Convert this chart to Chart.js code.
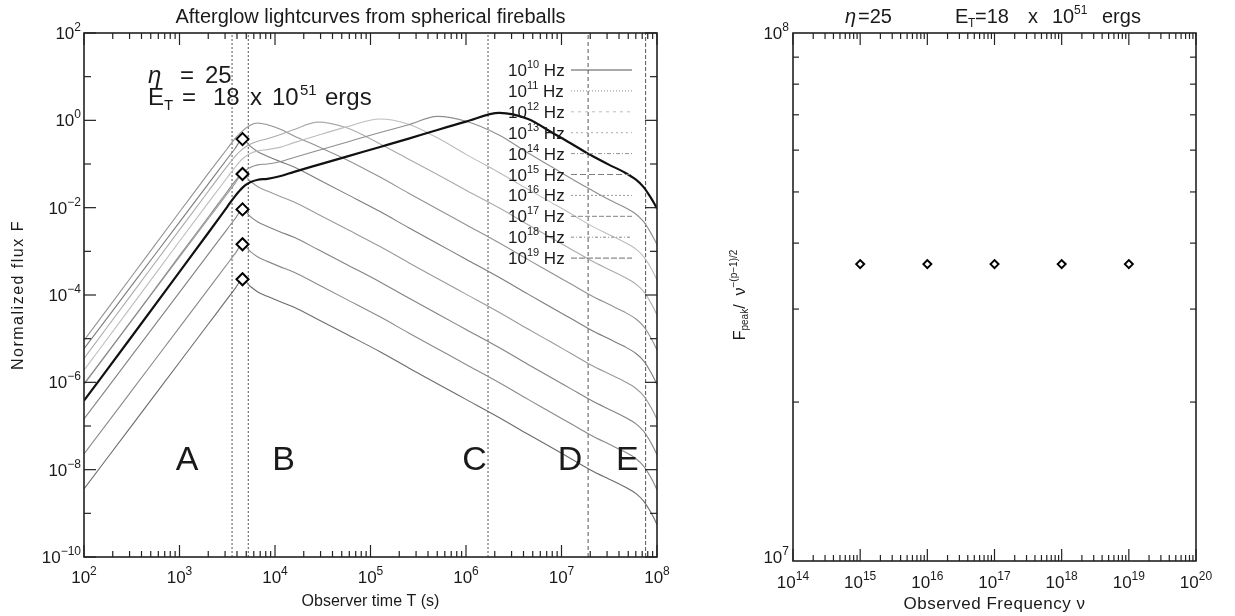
<!DOCTYPE html>
<html>
<head>
<meta charset="utf-8">
<script src="https://cdn.jsdelivr.net/npm/chart.js@4.4.0/dist/chart.umd.min.js"></script>
<style>
  html, body { margin: 0; padding: 0; background: #fff; }
  #wrap { position: relative; width: 1235px; height: 616px; }
  #left { position: absolute; left: 0; top: 0; }
  #right { position: absolute; left: 700px; top: 0; }
</style>
</head>
<body>
<div id="wrap">
  <canvas id="left" width="700" height="616"></canvas>
  <canvas id="right" width="535" height="616"></canvas>
</div>
<script>
// observer time grid, log10(T / s)
const logTime = [2.0, 2.5, 3.0, 3.3, 3.5, 3.58, 3.66, 3.74, 3.82, 3.92, 4.05, 4.2, 4.45, 4.75, 5.1,
                 5.4, 5.7, 6.0, 6.35, 6.65, 6.9, 7.1, 7.3, 7.5, 7.65, 7.78, 7.86, 7.92, 7.97, 8.0];

// log10 of normalized flux, one list per frequency
const lgF10 = [-6.42, -4.95, -3.47, -2.58, -1.98, -1.74, -1.54, -1.42, -1.36, -1.34, -1.28, -1.18, -1.02, -0.83, -0.61,
               -0.42, -0.22, -0.03, 0.17, 0.03, -0.28, -0.53, -0.79, -1.02, -1.18, -1.36, -1.53, -1.72, -1.90, -2.02];
const lgF11 = [-6.05, -4.58, -3.10, -2.22, -1.63, -1.40, -1.20, -1.08, -1.02, -1.00, -0.95, -0.85, -0.69, -0.50, -0.28,
               -0.10, 0.09, -0.02, -0.34, -0.75, -1.07, -1.33, -1.58, -1.82, -1.98, -2.15, -2.32, -2.52, -2.72, -2.85];
const lgF12 = [-5.72, -4.25, -2.77, -1.89, -1.31, -1.08, -0.88, -0.76, -0.70, -0.67, -0.62, -0.51, -0.34, -0.15, 0.03,
               -0.09, -0.40, -0.78, -1.20, -1.58, -1.89, -2.14, -2.40, -2.62, -2.78, -2.95, -3.12, -3.32, -3.52, -3.66];
const lgF13 = [-5.45, -3.98, -2.51, -1.63, -1.05, -0.83, -0.66, -0.55, -0.48, -0.42, -0.33, -0.21, -0.04, -0.17, -0.54,
               -0.89, -1.24, -1.60, -2.01, -2.39, -2.70, -2.95, -3.20, -3.42, -3.58, -3.75, -3.92, -4.12, -4.32, -4.46];
const lgF14 = [-5.04, -3.57, -2.10, -1.22, -0.65, -0.42, -0.24, -0.11, -0.06, -0.10, -0.20, -0.36, -0.60, -0.90, -1.30,
               -1.67, -2.03, -2.39, -2.81, -3.19, -3.50, -3.75, -4.00, -4.22, -4.38, -4.55, -4.72, -4.92, -5.12, -5.26];
const lgF15 = [-5.23, -3.78, -2.33, -1.46, -0.88, -0.65, -0.43, -0.59, -0.72, -0.82, -0.94, -1.07, -1.35, -1.69, -2.09,
               -2.46, -2.82, -3.18, -3.60, -3.98, -4.29, -4.54, -4.79, -5.01, -5.17, -5.34, -5.51, -5.71, -5.91, -6.05];
const lgF16 = [-6.03, -4.58, -3.13, -2.26, -1.68, -1.45, -1.23, -1.39, -1.52, -1.62, -1.74, -1.87, -2.15, -2.49, -2.89,
               -3.26, -3.62, -3.98, -4.40, -4.78, -5.09, -5.34, -5.59, -5.81, -5.97, -6.14, -6.31, -6.51, -6.71, -6.85];
const lgF17 = [-6.84, -5.39, -3.94, -3.07, -2.49, -2.26, -2.04, -2.20, -2.33, -2.43, -2.55, -2.68, -2.96, -3.30, -3.70,
               -4.07, -4.43, -4.79, -5.21, -5.59, -5.90, -6.15, -6.40, -6.62, -6.78, -6.95, -7.12, -7.32, -7.52, -7.66];
const lgF18 = [-7.64, -6.19, -4.74, -3.87, -3.29, -3.06, -2.84, -3.00, -3.13, -3.23, -3.35, -3.48, -3.76, -4.10, -4.50,
               -4.87, -5.23, -5.59, -6.01, -6.39, -6.70, -6.95, -7.20, -7.42, -7.58, -7.75, -7.92, -8.12, -8.32, -8.46];
const lgF19 = [-8.44, -6.99, -5.54, -4.67, -4.09, -3.86, -3.64, -3.80, -3.93, -4.03, -4.15, -4.28, -4.56, -4.90, -5.30,
               -5.67, -6.03, -6.39, -6.81, -7.19, -7.50, -7.75, -8.00, -8.22, -8.38, -8.55, -8.72, -8.92, -9.12, -9.26];

const freqExp = ["10", "11", "12", "13", "14", "15", "16", "17", "18", "19"];
const lightcurves = [lgF10, lgF11, lgF12, lgF13, lgF14, lgF15, lgF16, lgF17, lgF18, lgF19];

// peak of the high-frequency curves at the deceleration time
const peakTime = [4570, 4570, 4570, 4570, 4570];
const peakFlux = [0.372, 0.0589, 0.00912, 0.00145, 0.000229];

// phase boundaries and phase names
const phaseEdges = [3550, 5250, 1.7e6, 1.9e7, 7.6e7];
const phaseNames = ["A", "B", "C", "D", "E"];
const phaseNameTime = [1200, 1.23e4, 1.23e6, 1.23e7, 4.9e7];

// right panel: peak flux scaled by nu^-(p-1)/2
const nuObs = [1e15, 1e16, 1e17, 1e18, 1e19];
const peakScaled = [3.65e7, 3.65e7, 3.65e7, 3.65e7, 3.65e7];

const FONT = '"Liberation Sans", Arial, sans-serif';

const curveColor = ["#111", "#8e8e8e", "#bdbdbd", "#ababab", "#929292", "#7c7c7c", "#9a9a9a", "#828282", "#8a8a8a", "#6c6c6c"];
const legendDash = [[], [1, 2], [3, 4], [2, 3], [4, 2, 1, 2], [6, 3], [2, 2], [5, 2], [3, 2, 1, 2], [6, 2]];
const edgeDash = [[2, 2], [2, 2], [2, 2], [4, 3], [4, 2]];

function powText(ctx, base, exp, x, y, align, bs, es, rise) {
  ctx.font = bs + "px " + FONT;
  const wb = ctx.measureText(base).width;
  ctx.font = es + "px " + FONT;
  const we = ctx.measureText(exp).width;
  let x0 = x;
  if (align === "right") x0 = x - wb - we;
  if (align === "center") x0 = x - (wb + we) / 2;
  ctx.textAlign = "left";
  ctx.textBaseline = "alphabetic";
  ctx.font = bs + "px " + FONT;
  ctx.fillText(base, x0, y);
  ctx.font = es + "px " + FONT;
  ctx.fillText(exp, x0 + wb, y - rise);
  return x0 + wb + we;
}

function seg(ctx, x1, y1, x2, y2) {
  ctx.beginPath();
  ctx.moveTo(x1, y1);
  ctx.lineTo(x2, y2);
  ctx.stroke();
}

function piece(ctx, s, x, y, size, style) {
  ctx.font = (style ? style + " " : "") + size + "px " + FONT;
  ctx.textAlign = "left";
  ctx.textBaseline = "alphabetic";
  ctx.fillText(s, x, y);
}

function logXTicks(ctx, scale, a, lo, hi) {
  for (let e = lo; e <= hi; e++) {
    for (let k = 1; k <= 9; k++) {
      const v = k * Math.pow(10, e);
      if (v > Math.pow(10, hi) * 1.0001) break;
      const px = scale.getPixelForValue(v);
      const len = k === 1 ? 12 : 6;
      seg(ctx, px, a.bottom, px, a.bottom - len);
      seg(ctx, px, a.top, px, a.top + len);
    }
  }
}

const leftDecor = {
  id: "leftDecor",
  afterDraw(chart) {
    const { ctx, chartArea: a, scales: { x, y } } = chart;
    ctx.save();
    ctx.fillStyle = "#1a1a1a";
    ctx.strokeStyle = "#222";
    ctx.lineWidth = 1.2;
    logXTicks(ctx, x, a, 2, 8);
    for (let e = -10; e <= 2; e++) {
      const py = y.getPixelForValue(Math.pow(10, e));
      const len = e % 2 === 0 ? 12 : 7;
      seg(ctx, a.left, py, a.left + len, py);
      seg(ctx, a.right, py, a.right - len, py);
      if (e % 2 === 0) powText(ctx, "10", e < 0 ? "\u2212" + (-e) : String(e), a.left - 3, py + 6, "right", 17, 12, 8);
    }
    for (let e = 2; e <= 8; e++) {
      powText(ctx, "10", String(e), x.getPixelForValue(Math.pow(10, e)), a.bottom + 26, "center", 17, 12, 8);
    }
    ctx.lineWidth = 1.6;
    ctx.strokeRect(a.left, a.top, a.right - a.left, a.bottom - a.top);

    // title and axis names
    ctx.font = "20px " + FONT;
    ctx.textAlign = "center";
    ctx.textBaseline = "alphabetic";
    ctx.fillText("Afterglow lightcurves from spherical fireballs", (a.left + a.right) / 2, 23);
    ctx.font = "16px " + FONT;
    ctx.fillText("Observer time T (s)", (a.left + a.right) / 2, 606);
    ctx.save();
    ctx.translate(19, (a.top + a.bottom) / 2);
    ctx.rotate(-Math.PI / 2);
    ctx.letterSpacing = "1.5px";
    ctx.textBaseline = "middle";
    ctx.fillText("Normalized flux F", 0, 0);
    ctx.restore();

    // model parameters
    piece(ctx, "\u03b7", 148, 83, 24, "italic");
    piece(ctx, "=", 180, 83, 24);
    piece(ctx, "25", 205, 83, 24);
    piece(ctx, "E", 148, 105, 24);
    piece(ctx, "T", 164, 110, 15);
    piece(ctx, "=", 182, 105, 24);
    piece(ctx, "18", 213, 105, 24);
    piece(ctx, "x", 250, 105, 24);
    piece(ctx, "10", 272, 105, 24);
    piece(ctx, "51", 300, 95, 15);
    piece(ctx, "ergs", 325, 105, 24);

    // phase names
    ctx.font = "34px " + FONT;
    ctx.textAlign = "center";
    phaseNames.forEach((n, i) => {
      ctx.fillText(n, x.getPixelForValue(phaseNameTime[i]), y.getPixelForValue(1e-8));
    });

    // legend
    freqExp.forEach((ex, i) => {
      const cy = 70 + 20.9 * i;
      ctx.fillStyle = "#1a1a1a";
      const end = powText(ctx, "10", ex, 508, cy + 6, "left", 17, 11, 8);
      ctx.font = "17px " + FONT;
      ctx.fillText(" Hz", end, cy + 6);
      ctx.strokeStyle = i === 0 ? "#555" : curveColor[i];
      ctx.lineWidth = 1;
      ctx.setLineDash(legendDash[i]);
      seg(ctx, 571, cy, 632, cy);
      ctx.setLineDash([]);
    });
    ctx.restore();
  }
};

const rightDecor = {
  id: "rightDecor",
  afterDraw(chart) {
    const { ctx, chartArea: a, scales: { x, y } } = chart;
    ctx.save();
    ctx.fillStyle = "#1a1a1a";
    ctx.strokeStyle = "#222";
    ctx.lineWidth = 1.2;
    logXTicks(ctx, x, a, 14, 20);
    for (let k = 2; k <= 9; k++) {
      const py = y.getPixelForValue(k * 1e7);
      seg(ctx, a.left, py, a.left + 6, py);
      seg(ctx, a.right, py, a.right - 6, py);
    }
    for (let e = 14; e <= 20; e++) {
      powText(ctx, "10", String(e), x.getPixelForValue(Math.pow(10, e)), a.bottom + 27, "center", 17, 12, 8);
    }
    powText(ctx, "10", "8", a.left - 4, a.top + 6, "right", 17, 12, 8);
    powText(ctx, "10", "7", a.left - 4, a.bottom + 2, "right", 17, 12, 8);
    ctx.lineWidth = 1.6;
    ctx.strokeRect(a.left, a.top, a.right - a.left, a.bottom - a.top);

    // title
    piece(ctx, "\u03b7", 145, 23, 20, "italic");
    piece(ctx, "=25", 158, 23, 20);
    piece(ctx, "E", 255, 23, 20);
    piece(ctx, "T", 268, 27, 12);
    piece(ctx, "=18", 275, 23, 20);
    piece(ctx, "x", 328, 23, 20);
    piece(ctx, "10", 352, 23, 20);
    piece(ctx, "51", 374, 14, 12);
    piece(ctx, "ergs", 402, 23, 20);

    // axis names
    ctx.font = "17px " + FONT;
    ctx.textAlign = "center";
    ctx.letterSpacing = "0.5px";
    ctx.fillText("Observed Frequency \u03bd", (a.left + a.right) / 2, 609);
    ctx.letterSpacing = "0px";
    ctx.save();
    ctx.translate(41, 295);
    ctx.rotate(-Math.PI / 2);
    const parts = [["F", 16, 0], ["peak", 10, 4], ["/  ", 16, 0], ["\u03bd", 16, 0], ["\u2212(p\u22121)/2", 10, -7]];
    let total = 0;
    parts.forEach(p => { ctx.font = p[1] + "px " + FONT; total += ctx.measureText(p[0]).width; });
    let cx = -total / 2;
    ctx.textAlign = "left";
    ctx.textBaseline = "middle";
    parts.forEach(p => {
      ctx.font = p[1] + "px " + FONT;
      ctx.fillText(p[0], cx, p[2]);
      cx += ctx.measureText(p[0]).width;
    });
    ctx.restore();
    ctx.restore();
  }
};

const leftSets = [];
leftSets.push({
  data: peakTime.map((t, i) => ({ x: t, y: peakFlux[i] })),
  showLine: false,
  pointStyle: "rectRot",
  pointRadius: 6,
  pointBorderWidth: 2,
  pointBorderColor: "#000",
  pointBackgroundColor: "#fff",
  order: 0
});
lightcurves.forEach((lg, i) => {
  leftSets.push({
    label: "10^" + freqExp[i] + " Hz",
    data: logTime.map((t, j) => ({ x: Math.pow(10, t), y: Math.pow(10, lg[j]) })),
    borderColor: curveColor[i],
    borderWidth: i === 0 ? 2.2 : 1.1,
    pointRadius: 0,
    cubicInterpolationMode: "monotone",
    order: i === 0 ? 1 : 2
  });
});
phaseEdges.forEach((t, i) => {
  leftSets.push({
    data: [{ x: t, y: 1e-10 }, { x: t, y: 1e2 }],
    borderColor: "#555",
    borderWidth: 1,
    borderDash: edgeDash[i],
    pointRadius: 0,
    order: 3
  });
});

new Chart(document.getElementById("left"), {
  type: "line",
  data: { datasets: leftSets },
  options: {
    responsive: false,
    animation: false,
    devicePixelRatio: 1,
    layout: { padding: { left: 84, right: 43, top: 33, bottom: 59 } },
    scales: {
      x: { type: "logarithmic", min: 1e2, max: 1e8, display: false },
      y: { type: "logarithmic", min: 1e-10, max: 1e2, display: false }
    },
    plugins: { legend: { display: false }, tooltip: { enabled: false } }
  },
  plugins: [leftDecor]
});

new Chart(document.getElementById("right"), {
  type: "line",
  data: {
    datasets: [{
      data: nuObs.map((v, i) => ({ x: v, y: peakScaled[i] })),
      showLine: false,
      pointStyle: "rectRot",
      pointRadius: 4,
      pointBorderWidth: 2,
      pointBorderColor: "#000",
      pointBackgroundColor: "#fff"
    }]
  },
  options: {
    responsive: false,
    animation: false,
    devicePixelRatio: 1,
    layout: { padding: { left: 93, right: 39, top: 33, bottom: 55 } },
    scales: {
      x: { type: "logarithmic", min: 1e14, max: 1e20, display: false },
      y: { type: "logarithmic", min: 1e7, max: 1e8, display: false }
    },
    plugins: { legend: { display: false }, tooltip: { enabled: false } }
  },
  plugins: [rightDecor]
});
</script>
</body>
</html>
